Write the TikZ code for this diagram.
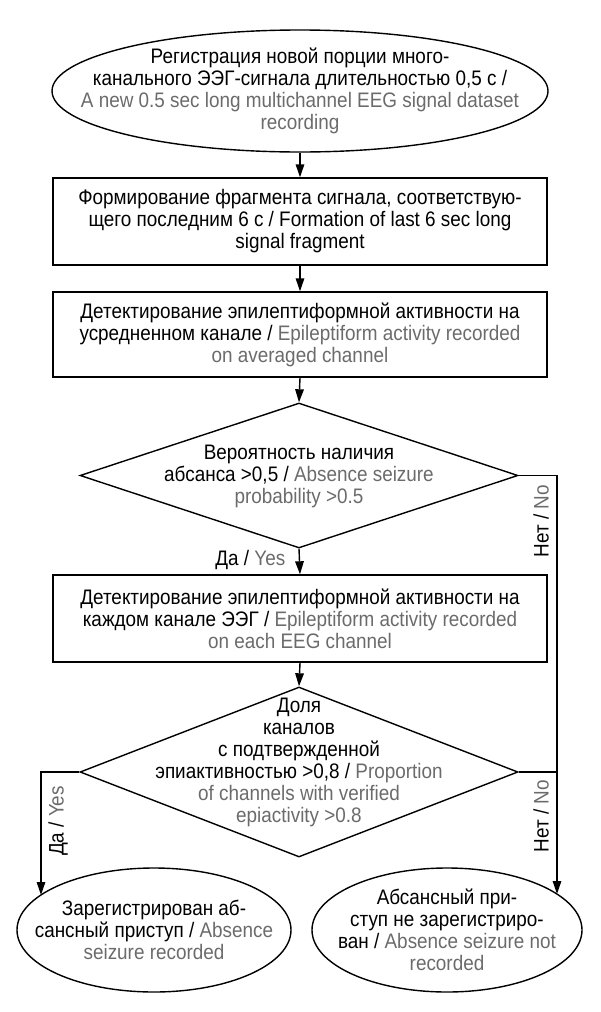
\documentclass[tikz,border=0pt]{standalone}
\usepackage{fontspec}
\setmainfont{Liberation Sans}[FakeStretch=0.9]
\usetikzlibrary{shapes.geometric,arrows.meta}
\definecolor{engray}{gray}{0.42}
\newcommand{\en}[1]{\textcolor{engray}{#1}}
\begin{document}
\begin{tikzpicture}[x=1pt,y=-1pt,
  line width=1.4pt,
  arr/.style={-{Triangle[length=13pt,width=8.5pt]}},
  txt/.style={align=center,font=\fontsize{21}{22}\selectfont,inner sep=0pt},
  lbl/.style={font=\fontsize{21}{22}\selectfont,inner sep=0pt},
  boxnode/.style={draw,rectangle,minimum width=494pt,inner sep=0pt},
  ellnode/.style={draw,ellipse,inner sep=0pt},
  dianode/.style={draw,diamond,inner sep=0pt,minimum width=438pt}]
\useasboundingbox (0,0) rectangle (600,1012);

% shapes
\node[ellnode,minimum width=496pt,minimum height=122pt] (e1) at (300,91) {};
\node[boxnode,minimum height=87pt] (b1) at (300,221.5) {};
\node[boxnode,minimum height=85pt] (b2) at (300,334.5) {};
\node[dianode,minimum height=145pt] (d1) at (299,475.5) {};
\node[boxnode,minimum height=87pt] (b3) at (300,618.5) {};
\node[dianode,minimum height=170pt] (d2) at (299,772) {};
\node[ellnode,minimum width=274pt,minimum height=124pt] (e2) at (154,930) {};
\node[ellnode,minimum width=270pt,minimum height=124pt] (e3) at (447,930) {};

% texts
\node[txt] (t1) at (e1) {Регистрация новой порции много-\\канального ЭЭГ-сигнала длительностью 0,5 с /\\\en{A new 0.5 sec long multichannel EEG signal dataset}\\\en{recording}};
\node[txt] (t2) at (b1) {Формирование фрагмента сигнала, соответствую-\\щего последним 6 с / Formation of last 6 sec long\\signal fragment};
\node[txt] (t3) at (b2) {Детектирование эпилептиформной активности на\\усредненном канале / \en{Epileptiform activity recorded}\\\en{on averaged channel}};
\node[txt] (t4) at (299,476) {Вероятность наличия\\абсанса >0,5 / \en{Absence seizure}\\\en{probability >0.5}};
\node[txt] (t5) at (b3) {Детектирование эпилептиформной активности на\\каждом канале ЭЭГ / \en{Epileptiform activity recorded}\\\en{on each EEG channel}};
\node[txt] (t6) at (299,762) {Доля\\каналов\\с подтвержденной\\эпиактивностью >0,8 / \en{Proportion}\\\en{of channels with verified}\\\en{epiactivity >0.8}};
\node[txt] (t7) at (e2) {Зарегистрирован аб-\\сансный приступ / \en{Absence}\\\en{seizure recorded}};
\node[txt] (t8) at (e3) {Абсансный при-\\ступ не зарегистриро-\\ван / \en{Absence seizure not}\\\en{recorded}};

% corner coordinates
\coordinate (r1) at (557,475.5);
\coordinate (r2) at (557,772);
\coordinate (l1) at (41,772);
\coordinate (tipR) at (557,894);
\coordinate (tipL) at (41,895);

% connectors
\draw[arr] (e1.south) -- (b1.north);
\draw[arr] (b1.south) -- (b2.north);
\draw[arr] (b2.south) -- (d1.north);
\draw[arr] (d1.south) -- (b3.north);
\draw[arr] (b3.south) -- (d2.north);
\draw[arr] (d1.east) -- (r1) -- (tipR);
\draw (d2.east) -- (r2);
\draw[arr] (d2.west) -- (l1) -- (tipL);

% labels
\node[lbl,anchor=east] (yes1) at (286,560) {Да / \en{Yes}};
\node[lbl,rotate=90] (no1) at (541,521) {Нет / \en{No}};
\node[lbl,rotate=90] (no2) at (541,816) {Нет / \en{No}};
\node[lbl,rotate=90] (yes2) at (58,821) {Да / \en{Yes}};
\end{tikzpicture}
\end{document}
